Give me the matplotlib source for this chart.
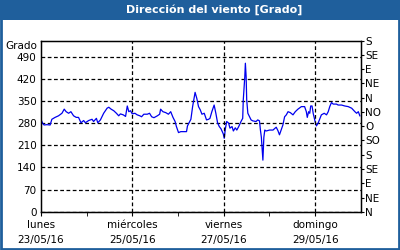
import datetime as dt
import matplotlib
matplotlib.use("Agg")
import matplotlib.pyplot as plt
from matplotlib.patches import Rectangle

# horas desde el lunes 23/05/16 00:00 y direccion en grados
horas = [
    0.2, 1.0, 1.7, 3.2, 4.9, 5.8, 7.5, 9.3, 11.1, 12.3, 13.3, 14.6, 15.8, 17.2,
    18.6, 19.8, 21.1, 22.5, 23.4, 25.1, 26.9, 27.7, 29.2, 29.9, 31.3, 33.0,
    34.8, 35.7, 36.9, 38.3, 39.7, 40.9, 41.8, 43.3, 44.5, 45.4, 46.2, 47.1,
    48.0, 49.4, 50.6, 52.0, 52.9, 54.1, 55.9, 57.1, 58.2, 59.4, 61.2, 62.4,
    62.9, 64.1, 65.6, 67.0, 68.2, 69.4, 70.5, 71.2, 72.3, 73.5, 75.2, 76.5,
    77.0, 78.8, 79.7, 81.0, 81.9, 82.8, 83.7, 84.6, 85.8, 87.0, 88.1, 88.8,
    89.8, 91.0, 91.9, 92.8, 93.7, 94.6, 95.8, 96.3, 96.9, 97.6, 98.6, 99.3,
    100.4, 101.1, 102.1, 102.9, 103.9, 105.1, 106.0, 106.3, 107.1, 107.4,
    107.8, 108.1, 108.7, 109.5, 110.4, 111.3, 113.0, 113.9, 114.8, 115.3,
    115.8, 116.2, 116.6, 117.1, 117.6, 118.3, 120.1, 121.9, 123.6, 124.5,
    125.3, 126.2, 127.1, 128.0, 128.9, 129.8, 131.0, 132.4, 133.6, 135.0,
    136.8, 138.5, 139.4, 139.9, 140.6, 141.2, 141.7, 142.4, 143.0, 143.5,
    144.2, 144.7, 145.6, 146.4, 147.3, 148.8, 150.0, 150.9, 151.7, 152.6,
    153.5, 155.2, 156.1, 157.9, 159.6, 161.4, 163.2, 164.9, 165.8, 166.7,
    167.5,
]
grados = [
    290, 279, 274, 275, 274, 292, 298, 303, 311, 324, 316, 311, 316, 303,
    298, 298, 281, 288, 281, 288, 292, 285, 295, 281, 290, 311,
    327, 330, 324, 319, 311, 303, 309, 306, 301, 334, 316, 319,
    309, 311, 306, 303, 300, 308, 308, 311, 300, 297, 303, 308,
    324, 316, 313, 308, 316, 298, 285, 269, 250, 253, 253, 253,
    271, 292, 332, 377, 358, 332, 322, 308, 311, 290, 292, 295,
    316, 337, 311, 281, 269, 262, 246, 232, 262, 285, 280, 264,
    269, 255, 265, 258, 269, 285, 295, 353, 427, 469,
    427, 353, 311, 301, 290, 287, 285, 290, 287, 258,
    235, 197, 163, 235, 258, 255, 258, 258, 267, 256,
    243, 258, 274, 300, 306, 316, 313, 306, 316, 324,
    332, 332, 316, 298, 316, 311, 334, 334, 311, 298,
    280, 271, 280, 292, 306, 311, 306, 316, 332, 345,
    340, 340, 337, 337, 334, 332, 327, 316, 311, 316,
    303,
]

y_ticks = [0, 70, 140, 210, 280, 350, 420, 490]
rumbos = ["N", "NE", "E", "SE", "S", "SO", "O", "NO", "N", "NE", "E", "SE", "S"]
dias_etiqueta = ["lunes\n23/05/16", "miércoles\n25/05/16",
                 "viernes\n27/05/16", "domingo\n29/05/16"]

inicio = dt.datetime(2016, 5, 23)
tiempos = [inicio + dt.timedelta(hours=h) for h in horas]

azul = "#1f5f9c"
plt.rcParams["font.family"] = ["DejaVu Sans"]
fs = 7.5

fig = plt.figure(figsize=(4, 2.5), dpi=100)
fig.patches.append(Rectangle((0, 0.92), 1, 0.08, transform=fig.transFigure,
                             facecolor=azul, edgecolor="none", zorder=0))
fig.patches.append(Rectangle((0.002, 0.004), 0.995, 0.992, transform=fig.transFigure,
                             facecolor="none", edgecolor=azul, lw=2, zorder=1))
fig.text(0.535, 0.96, "Dirección del viento [Grado]", color="white",
         fontsize=8, fontweight="bold", ha="center", va="center")
fig.text(0.092, 0.816, "Grado", fontsize=fs, ha="right", va="center")

ax = fig.add_axes([0.102, 0.153, 0.8, 0.684])
ax.plot(tiempos, grados, color="#0000ee", lw=0.9)

ax.set_ylim(0, 540)
ax.set_xlim(inicio, inicio + dt.timedelta(days=7))
ax.set_yticks(y_ticks)
ax.tick_params(axis="y", length=0, labelsize=fs, pad=3)

mayores = [inicio + dt.timedelta(days=d) for d in (0, 2, 4, 6)]
menores = [inicio + dt.timedelta(days=d) for d in (1, 3, 5)]
ax.set_xticks(mayores)
ax.set_xticklabels(dias_etiqueta, fontsize=fs, linespacing=1.6)
ax.set_xticks(menores, minor=True)
ax.tick_params(axis="x", which="both", length=3, direction="out", pad=3)

ax.grid(axis="y", color="black", linestyle=(0, (3, 2)), lw=0.9)
for t in mayores[1:]:
    ax.axvline(t, color="black", linestyle=(0, (3, 2)), lw=0.9)

for s in ax.spines.values():
    s.set_linewidth(1)

ax2 = ax.twinx()
ax2.set_ylim(0, 540)
ax2.set_yticks(range(0, 541, 45))
ax2.set_yticklabels(rumbos, fontsize=fs)
ax2.tick_params(axis="y", length=2, pad=1)

fig.savefig("out.png", dpi=100)
